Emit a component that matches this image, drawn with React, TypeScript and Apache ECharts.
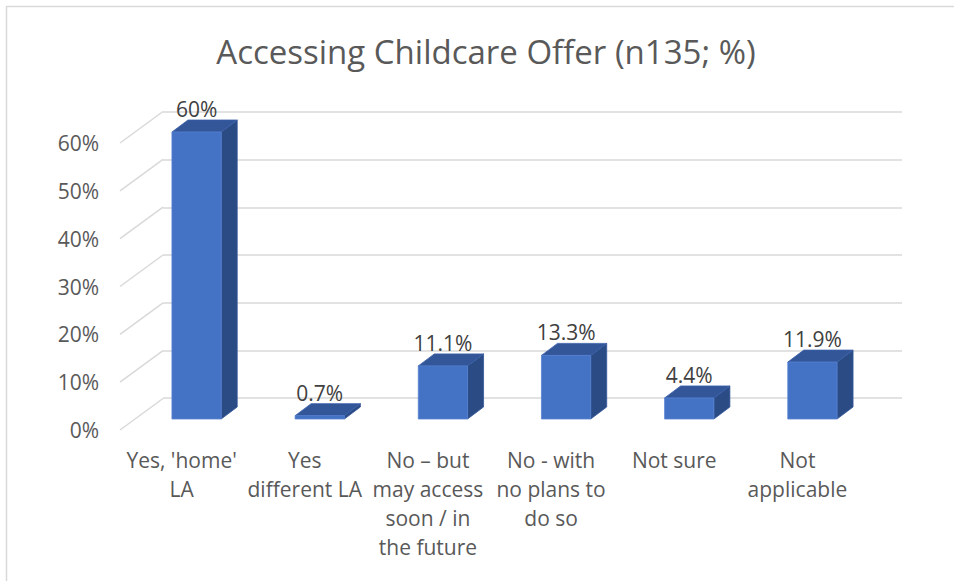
import React, { useEffect, useRef } from "react";
import * as echarts from "echarts";

const categories = [
  "Yes, 'home'\nLA",
  "Yes\ndifferent LA",
  "No – but\nmay access\nsoon / in\nthe future",
  "No - with\nno plans to\ndo so",
  "Not sure",
  "Not\napplicable",
];
const values = [60, 0.7, 11.1, 13.3, 4.4, 11.9];
const yTicks = [0, 10, 20, 30, 40, 50, 60];
const titleText = "Accessing Childcare Offer (n135; %)";

const FONT = "'Open Sans', Lato, sans-serif";

export default function App() {
  const ref = useRef<HTMLDivElement>(null);
  useEffect(() => {
    if (!ref.current) return;
    const chart = echarts.init(ref.current, null, { renderer: "svg" });
    const WALL_DX = 43;
    const WALL_DY = -31.5;
    const BAR_OX = 15;
    const BAR_OY = -11;
    const DEPTH_DX = 16;
    const DEPTH_DY = -12;
    const option: any = {
      animation: false,
      backgroundColor: "#ffffff",
      textStyle: { fontFamily: FONT },
      grid: [
        { left: 120, right: 95, top: 143, bottom: 151 },
        { left: 163, right: 52, top: 112, bottom: 183 },
      ],
      xAxis: [
        {
          gridIndex: 0,
          type: "category",
          data: categories,
          axisLine: { show: false },
          axisTick: { show: false },
          axisLabel: {
            interval: 0,
            margin: 15,
            fontSize: 21,
            lineHeight: 29,
            color: "#595959",
            fontFamily: FONT,
          },
        },
        {
          gridIndex: 1,
          type: "category",
          data: categories,
          show: false,
        },
      ],
      yAxis: [
        {
          gridIndex: 0,
          type: "value",
          min: 0,
          max: 60,
          interval: 10,
          axisLine: { show: false },
          axisTick: { show: false },
          splitLine: { show: false },
          axisLabel: {
            formatter: "{value}%",
            margin: 21,
            fontSize: 21,
            color: "#595959",
            fontFamily: FONT,
          },
        },
        {
          gridIndex: 1,
          type: "value",
          min: 0,
          max: 60,
          interval: 10,
          axisLine: { show: false },
          axisTick: { show: false },
          axisLabel: { show: false },
          splitLine: { show: true, lineStyle: { color: "#D9D9D9", width: 1.5 } },
        },
      ],
      graphic: [
        {
          type: "line",
          shape: { x1: 6.5, y1: 6, x2: 6.5, y2: 581 },
          style: { stroke: "#D9D9D9", lineWidth: 1.5 },
        },
        {
          type: "line",
          shape: { x1: 6, y1: 6.5, x2: 954, y2: 6.5 },
          style: { stroke: "#D9D9D9", lineWidth: 1.5 },
        },
        {
          type: "text",
          x: 486,
          y: 51,
          style: {
            text: titleText,
            align: "center",
            verticalAlign: "middle",
            fill: "#595959",
            fontSize: 33,
            fontFamily: FONT,
          },
        },
      ],
      series: [
        {
          type: "custom",
          xAxisIndex: 0,
          yAxisIndex: 0,
          clip: false,
          silent: true,
          encode: { x: 0, y: 1 },
          data: yTicks.map((v) => [0, v]),
          renderItem: (params: any, api: any) => {
            const p = api.coord([0, api.value(1)]);
            const x0 = params.coordSys.x;
            return {
              type: "line",
              shape: { x1: x0, y1: p[1], x2: x0 + WALL_DX, y2: p[1] + WALL_DY },
              style: { stroke: "#D9D9D9", lineWidth: 1.5 },
            };
          },
        },
        {
          type: "custom",
          xAxisIndex: 0,
          yAxisIndex: 0,
          clip: false,
          encode: { x: 0, y: 1 },
          data: values.map((v, i) => [i, v]),
          renderItem: (params: any, api: any) => {
            const idx = api.value(0);
            const val = api.value(1);
            const base = api.coord([idx, 0]);
            const top = api.coord([idx, val]);
            const band = api.size([1, 0])[0];
            const w = band * 0.4;
            const cx = base[0] + BAR_OX;
            const xl = cx - w / 2;
            const xr = cx + w / 2;
            const yb = base[1] + BAR_OY;
            const yt = top[1] + BAR_OY;
            return {
              type: "group",
              children: [
                {
                  type: "polygon",
                  shape: {
                    points: [
                      [xr, yt],
                      [xr + DEPTH_DX, yt + DEPTH_DY],
                      [xr + DEPTH_DX, yb + DEPTH_DY],
                      [xr, yb],
                    ],
                  },
                  style: { fill: "#2B4B85", stroke: "#33579A", lineWidth: 0.8 },
                },
                {
                  type: "polygon",
                  shape: {
                    points: [
                      [xl, yt],
                      [xl + DEPTH_DX, yt + DEPTH_DY],
                      [xr + DEPTH_DX, yt + DEPTH_DY],
                      [xr, yt],
                    ],
                  },
                  style: { fill: "#335699", stroke: "#3A60A8", lineWidth: 0.8 },
                },
                {
                  type: "rect",
                  shape: { x: xl, y: yt, width: w, height: yb - yt },
                  style: { fill: "#4472C4", stroke: "#5582D0", lineWidth: 0.8 },
                },
                {
                  type: "text",
                  x: cx,
                  y: yt - 23,
                  style: {
                    text: `${val}%`,
                    align: "center",
                    verticalAlign: "middle",
                    fill: "#404040",
                    fontSize: 21,
                    fontFamily: FONT,
                  },
                },
              ],
            };
          },
        },
      ],
    };
    chart.setOption(option);
    return () => chart.dispose();
  }, []);
  return (
    <div
      ref={ref}
      style={{ position: "fixed", left: 0, top: 0, width: 954, height: 581, background: "#fff" }}
    />
  );
}
